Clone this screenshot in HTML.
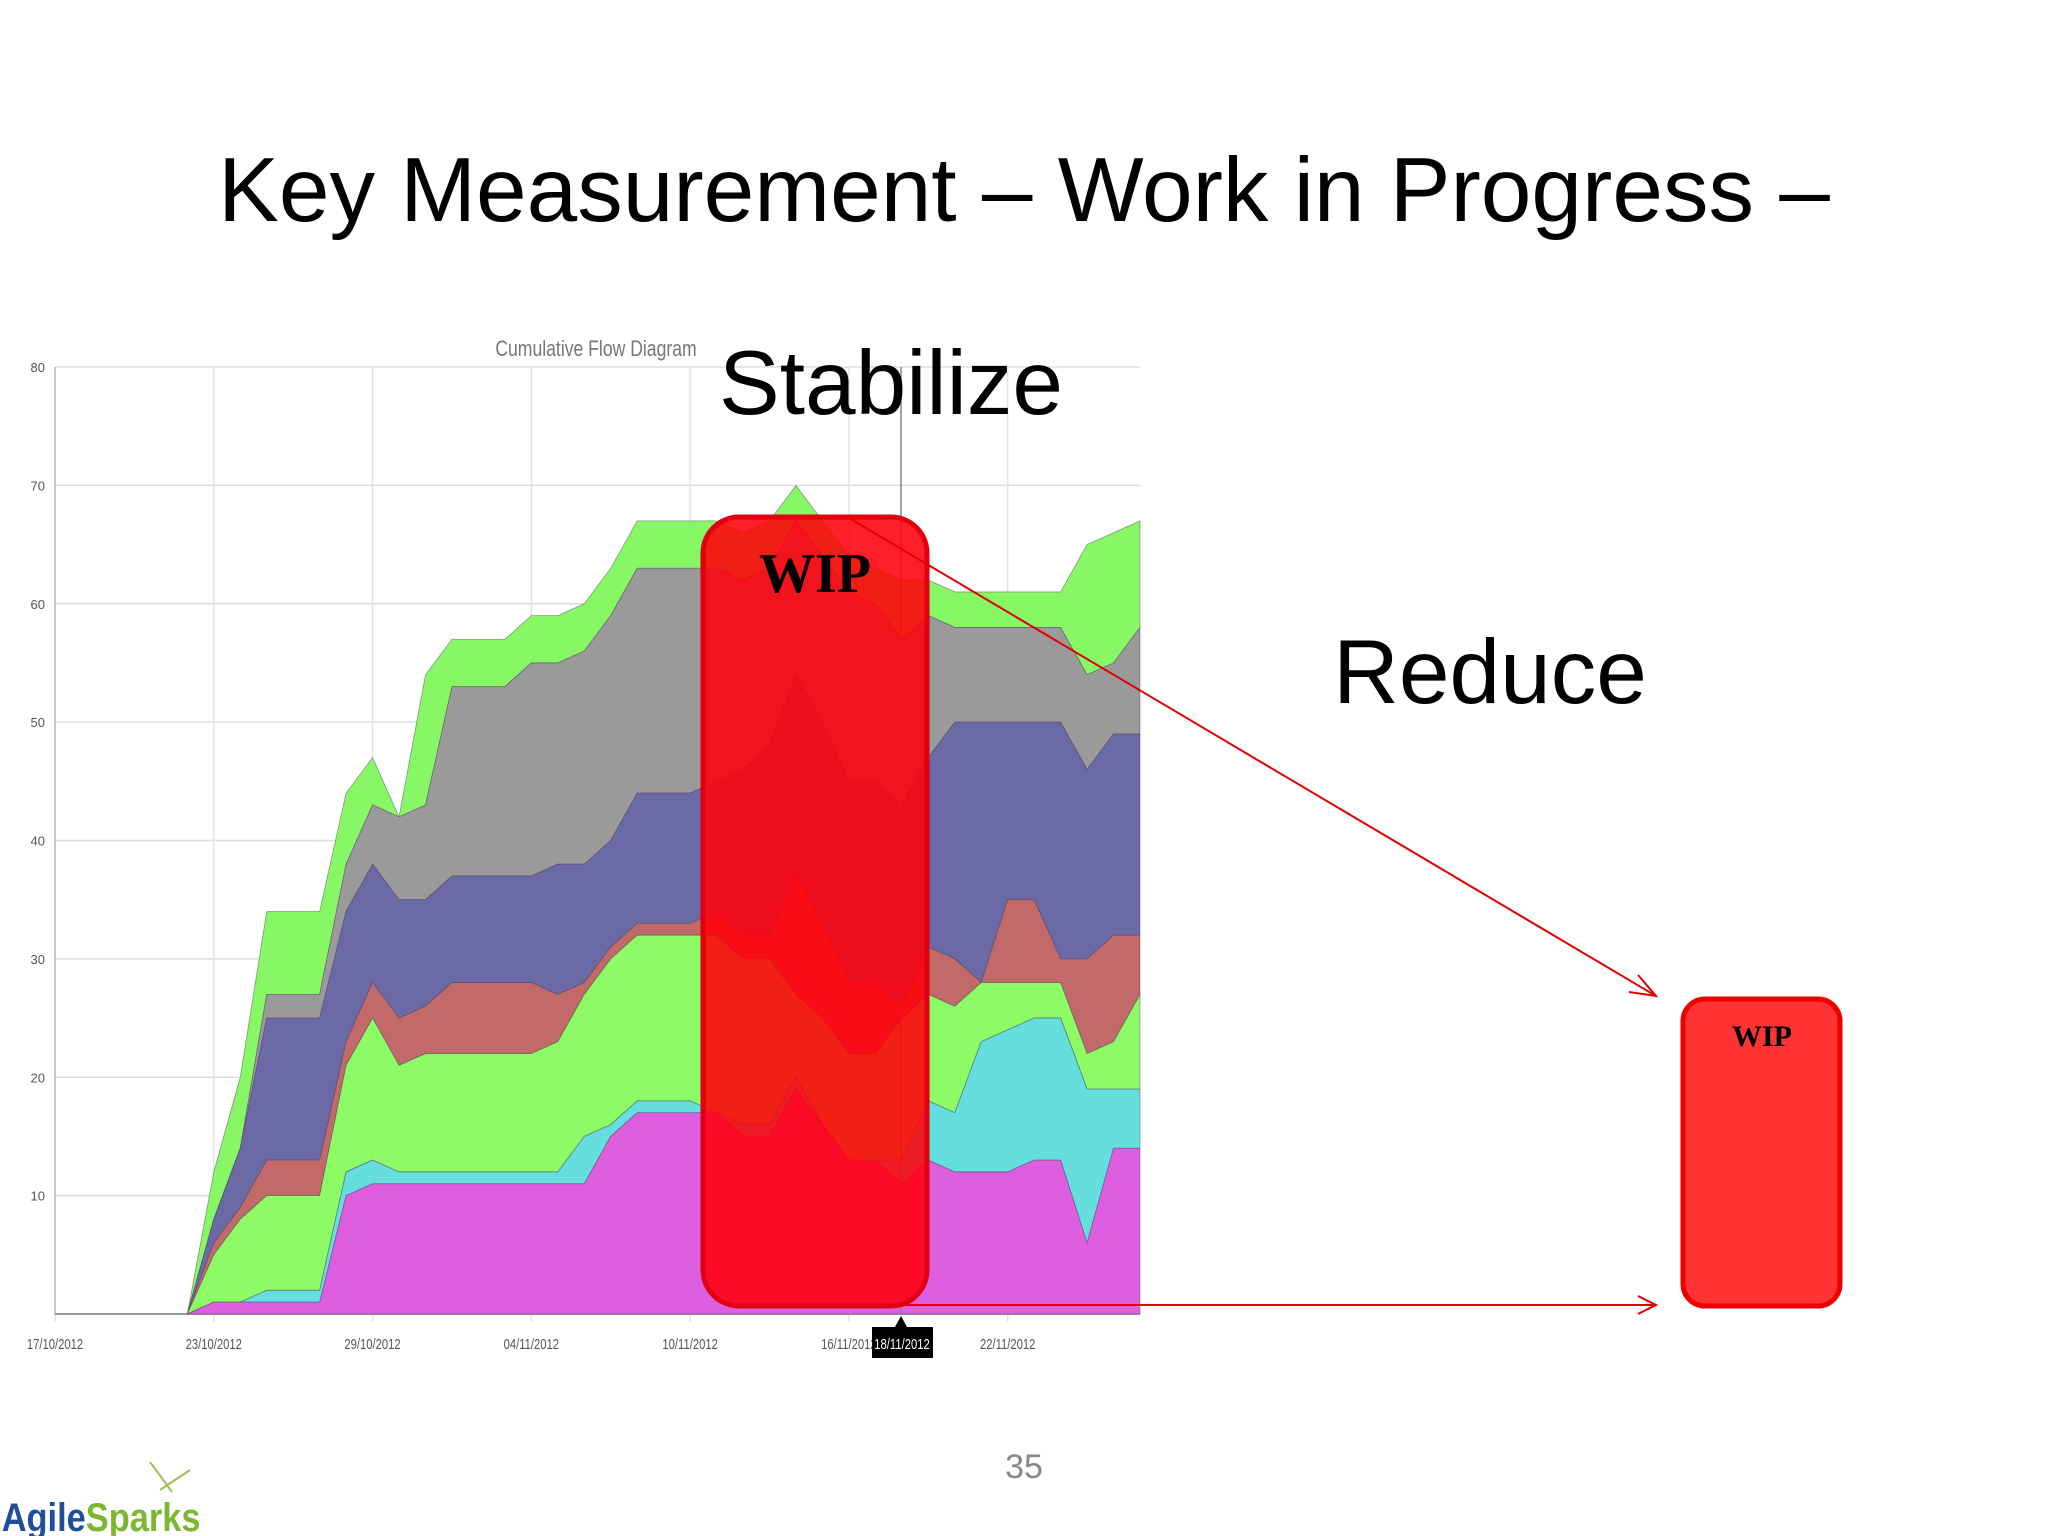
<!DOCTYPE html>
<html><head><meta charset="utf-8"><style>
html,body{margin:0;padding:0;background:#fff;}
svg{display:block;}
</style></head><body>
<svg id="s" width="2048" height="1536" viewBox="0 0 2048 1536" xmlns="http://www.w3.org/2000/svg">
<g id="chart"></g>
<text x="1024" y="221" text-anchor="middle" font-family="Liberation Sans, sans-serif" font-size="91" fill="#000">Key Measurement – Work in Progress –</text>
<text x="891" y="414" text-anchor="middle" font-family="Liberation Sans, sans-serif" font-size="91" fill="#000">Stabilize</text>
<text x="1490" y="703" text-anchor="middle" font-family="Liberation Sans, sans-serif" font-size="91" fill="#000">Reduce</text>
<rect x="703" y="517" width="224" height="789" rx="36" fill="rgba(255,0,10,0.88)" stroke="#e00010" stroke-width="5"/>
<text x="815" y="592" text-anchor="middle" font-family="Liberation Serif, serif" font-weight="bold" font-size="56" fill="#000">WIP</text>
<rect x="1683" y="999" width="157" height="307" rx="22" fill="#ff3333" stroke="#ee0000" stroke-width="5"/>
<text x="1762" y="1046" text-anchor="middle" font-family="Liberation Serif, serif" font-weight="bold" font-size="30" fill="#000">WIP</text>
<g stroke="#e00000" stroke-width="2" fill="none">
<line x1="849" y1="518" x2="1656" y2="996"/>
<polyline points="1638,975 1656,996 1629,992"/>
<line x1="901" y1="1305" x2="1656" y2="1305"/>
<polyline points="1638,1296 1656,1305 1638,1314"/>
</g>
<text x="1024" y="1478" text-anchor="middle" font-family="Liberation Sans, sans-serif" font-size="34" fill="#888">35</text>
<g>
<path d="M150 1462 L172 1492 M160 1490 L190 1470" stroke="#9bc05a" stroke-width="2" fill="none"/>
<text x="2" y="1531" font-family="Liberation Sans, sans-serif" font-weight="bold" font-size="40" transform="scale(0.86,1)"><tspan fill="#1f4f9a">Agile</tspan><tspan fill="#7cb82f">Sparks</tspan></text>
</g>
</svg>
<script>
const days = ['17/10/2012','23/10/2012','29/10/2012','04/11/2012','10/11/2012','16/11/2012','22/11/2012'];
const yTicks = [10,20,30,40,50,60,70,80];
const startDay = 5;
const magenta = [0,1,1,1,1,1,10,11,11,11,11,11,11,11,11,11,15,17,17,17,17,15,15,19,16,13,13,11,13,12,12,12,13,13,6,14,14];
const cyan    = [0,1,1,2,2,2,12,13,12,12,12,12,12,12,12,15,16,18,18,18,17,16,16,20,16,13,13,13,18,17,23,24,25,25,19,19,19];
const green   = [0,5,8,10,10,10,21,25,21,22,22,22,22,22,23,27,30,32,32,32,32,30,30,27,25,22,22,25,27,26,28,28,28,28,22,23,27];
const red     = [0,6,9,13,13,13,23,28,25,26,28,28,28,28,27,28,31,33,33,33,34,32,32,37,33,28,28,26,31,30,28,35,35,30,30,32,32];
const purple  = [0,8,14,25,25,25,34,38,35,35,37,37,37,37,38,38,40,44,44,44,45,46,48,54,50,45,45,43,47,50,50,50,50,50,46,49,49];
const gray    = [0,8,14,27,27,27,38,43,42,43,53,53,53,55,55,56,59,63,63,63,63,62,63,67,64,61,60,57,59,58,58,58,58,58,54,55,58];
const topGreen= [0,12,20,34,34,34,44,47,42,54,57,57,57,59,59,60,63,67,67,67,67,66,67,70,67,64,63,62,62,61,61,61,61,61,65,66,67];
const X0=55, X1=1140, NDAYS=41, Y0=1314, Y80=367;
const x = d => X0 + d*(X1-X0)/NDAYS;
const y = v => Y0 - v*(Y0-Y80)/80;
const NS='http://www.w3.org/2000/svg';
const g=document.getElementById('chart');
function mk(tag, attrs){const e=document.createElementNS(NS,tag);for(const k in attrs)e.setAttribute(k,attrs[k]);g.appendChild(e);return e;}
yTicks.forEach(v=>{
  const l=mk('line',{x1:X0,x2:X1,y1:y(v),y2:y(v),stroke:'#ddd','stroke-width':1.5});
  
  
  const t=mk('text',{x:X0-10,y:y(v)+5,'text-anchor':'end','font-family':'Liberation Sans Narrow, Liberation Sans, sans-serif','font-size':13,fill:'#555'});
  t.textContent=v;
  
  
});
days.forEach((d,i)=>{
  const xx=x(i*6);
  const l=mk('line',{x1:xx,x2:xx,y1:Y80,y2:Y0+8,stroke:'#e4e4e4','stroke-width':1.5});
  
  
  const t=mk('text',{x:xx,y:Y0+35,'text-anchor':'middle','font-family':'Liberation Sans Narrow, Liberation Sans, sans-serif','font-size':15,fill:'#555',transform:`translate(${xx},0) scale(0.75,1) translate(${-xx},0)`});
  t.textContent=d;
  
  
});
const ax=mk('line',{x1:X0,x2:X0,y1:Y80,y2:Y0,stroke:'#bbb','stroke-width':1.5});


const bx=mk('line',{x1:X0,x2:X1,y1:Y0,y2:Y0,stroke:'#999','stroke-width':2});


const layers=[[topGreen,gray,'#88f766','done-area'],[gray,purple,'#9a9a9a','test-done-area'],[purple,red,'#6b6aa6','test-area'],[red,green,'#c26a6a','dev-done-area'],[green,cyan,'#8cfb66','dev-area'],[cyan,magenta,'#66dede','design-area'],[magenta,null,'#dd5fe0','backlog-area']];
layers.forEach(([top,bot,col,name])=>{
  let pts=top.map((v,i)=>x(startDay+i)+','+y(v));
  const b= bot? bot.map((v,i)=>x(startDay+i)+','+y(v)).reverse() : [x(startDay+top.length-1)+','+y(0), x(startDay)+','+y(0)];
  const p=mk('polygon',{points:pts.concat(b).join(' '),fill:col,stroke:'#4a3a5a','stroke-width':0.8,'stroke-opacity':0.5});
  
  
});
const ct=mk('text',{x:596,y:356,'text-anchor':'middle','font-family':'Liberation Sans Narrow, Liberation Sans, sans-serif','font-size':22,fill:'#777',transform:'translate(596,0) scale(0.8,1) translate(-596,0)'});
ct.textContent='Cumulative Flow Diagram';


const cl=mk('line',{x1:901,x2:901,y1:Y80,y2:Y0,stroke:'#888','stroke-width':1.5});


const tb=mk('rect',{x:872,y:1327,width:61,height:31,fill:'#000'});


const tp=mk('polygon',{points:'895,1327 901,1316 907,1327',fill:'#000'});


const tt=mk('text',{x:902,y:1349,'text-anchor':'middle','font-family':'Liberation Sans Narrow, Liberation Sans, sans-serif','font-size':15,fill:'#fff',transform:'translate(902,0) scale(0.75,1) translate(-902,0)'});
tt.textContent='18/11/2012';


</script>
</body></html>
